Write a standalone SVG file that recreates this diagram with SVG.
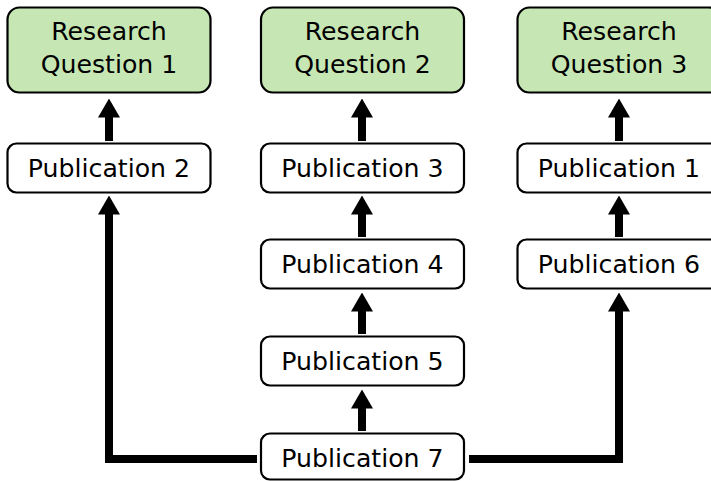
<svg xmlns="http://www.w3.org/2000/svg" width="711" height="481" viewBox="0 0 711 481">
<style>
.box{fill:#ffffff;stroke:#000;stroke-width:2.2}
.rq{fill:#c6e7b3;stroke:#000;stroke-width:2.2}
.t{font-family:"DejaVu Sans",Verdana,sans-serif;font-size:25.2px;fill:#000;text-anchor:middle}
.c{fill:none;stroke:#000;stroke-width:8;marker-end:url(#ah)}
</style>
<defs>
<marker id="ah" markerUnits="userSpaceOnUse" viewBox="0 0 19 22" markerWidth="19" markerHeight="22" refX="0.5" refY="11" orient="auto">
<path d="M0,0 L19,11 L0,22 z" fill="#000"/>
</marker>
</defs>
<g id="connectors">
<line class="c" x1="109" y1="141" x2="109" y2="117"/>
<line class="c" x1="362" y1="141" x2="362" y2="117"/>
<line class="c" x1="619" y1="141" x2="619" y2="117"/>
<line class="c" x1="362" y1="237" x2="362" y2="214"/>
<line class="c" x1="619" y1="237" x2="619" y2="214"/>
<line class="c" x1="362" y1="334" x2="362" y2="311"/>
<line class="c" x1="362" y1="431" x2="362" y2="408"/>
<path class="c" d="M257,459 H109 V214"/>
<path class="c" d="M469,459 H619 V311"/>
</g>
<g id="rq1"><rect class="rq" x="7.5" y="7.5" width="203" height="85" rx="12"/><text class="t" x="109" y="40">Research</text><text class="t" x="109" y="73">Question 1</text></g>
<g id="rq2"><rect class="rq" x="261" y="7.5" width="203" height="85" rx="12"/><text class="t" x="362.5" y="40">Research</text><text class="t" x="362.5" y="73">Question 2</text></g>
<g id="rq3"><rect class="rq" x="517.5" y="7.5" width="203" height="85" rx="12"/><text class="t" x="619" y="40">Research</text><text class="t" x="619" y="73">Question 3</text></g>
<g id="pub2"><rect class="box" x="7.5" y="143.5" width="203" height="49" rx="9"/><text class="t" x="109" y="177">Publication 2</text></g>
<g id="pub3"><rect class="box" x="261" y="143.5" width="203" height="49" rx="9"/><text class="t" x="362.5" y="177">Publication 3</text></g>
<g id="pub1"><rect class="box" x="517.5" y="143.5" width="203" height="49" rx="9"/><text class="t" x="619" y="177">Publication 1</text></g>
<g id="pub4"><rect class="box" x="261" y="239.5" width="203" height="49" rx="9"/><text class="t" x="362.5" y="273">Publication 4</text></g>
<g id="pub6"><rect class="box" x="517.5" y="239.5" width="203" height="49" rx="9"/><text class="t" x="619" y="273">Publication 6</text></g>
<g id="pub5"><rect class="box" x="261" y="336.5" width="203" height="49" rx="9"/><text class="t" x="362.5" y="370">Publication 5</text></g>
<g id="pub7"><rect class="box" x="261" y="433.5" width="203" height="46" rx="9"/><text class="t" x="362.5" y="467">Publication 7</text></g>
</svg>
